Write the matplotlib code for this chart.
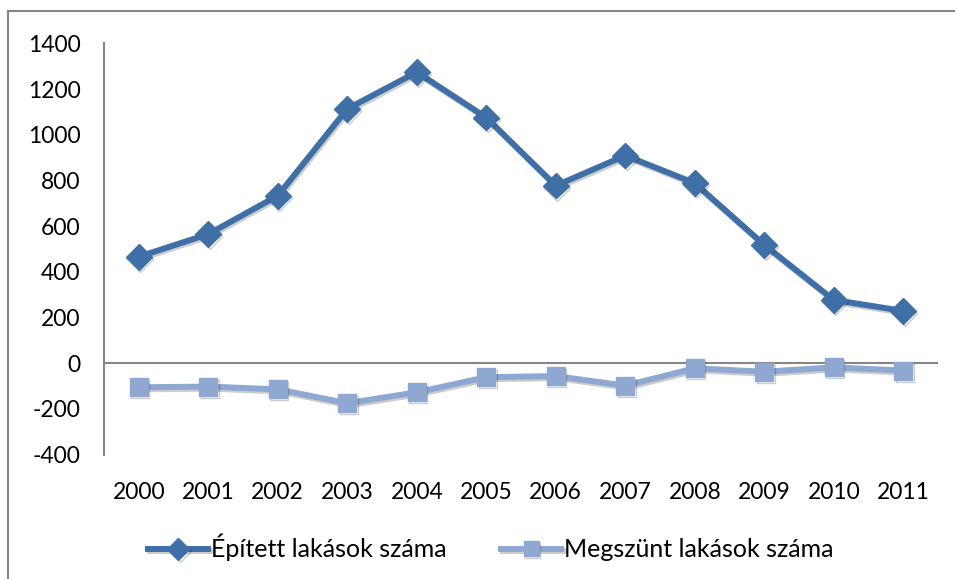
import numpy as np
import matplotlib.pyplot as plt
import matplotlib.patheffects as pe
from matplotlib.lines import Line2D

# yearly housing figures
years = ['2000', '2001', '2002', '2003', '2004', '2005',
         '2006', '2007', '2008', '2009', '2010', '2011']
epitett = [466, 565, 733, 1113, 1274, 1075, 777, 909, 788, 518, 277, 229]
megszunt = [-105, -102, -114, -175, -127, -61, -56, -98, -22, -37, -18, -32]

plt.rcParams['font.family'] = ['Lato', 'DejaVu Sans']
plt.rcParams['axes.unicode_minus'] = False

fig = plt.figure(figsize=(9.55, 5.79), dpi=100)
ax = fig.add_axes([0.1089, 0.2147, 0.9822 - 0.1089, 0.9252 - 0.2147])

x = np.arange(len(years))
shadow = [pe.SimpleLineShadow(offset=(1.0, -1.5), shadow_color='k', alpha=0.2), pe.Normal()]

ax.plot(x, epitett, color='#3F6FA7', lw=4.3, marker='D', markersize=13,
        label='Épített lakások száma', path_effects=shadow, zorder=3)
ax.plot(x, megszunt, color='#8EA8D1', lw=4.3, marker='s', markersize=13,
        label='Megszünt lakások száma', path_effects=shadow, zorder=3)

ax.set_xlim(-0.5, len(years) - 0.5)
ax.set_ylim(-400, 1400)
ax.set_yticks(range(-400, 1401, 200))
ax.set_xticks(x)
ax.set_xticklabels(years)

# axis at zero, category labels below the plot
for s in ['top', 'right', 'bottom']:
    ax.spines[s].set_visible(False)
ax.spines['left'].set_color('#868686')
ax.spines['left'].set_linewidth(1.5)
ax.axhline(0, color='#868686', lw=1.5, zorder=2)
ax.tick_params(axis='both', length=0, labelsize=16.5, colors='black')
ax.tick_params(axis='x', pad=20)
ax.tick_params(axis='y', pad=17)

fig.legend(loc='center', bbox_to_anchor=(0.514, 0.054), ncol=2, frameon=False,
           fontsize=18, handlelength=2.4, handletextpad=0.1, columnspacing=2.2,
           markerscale=0.85)

# chart frame
fig.add_artist(Line2D([8 / 955, 8 / 955], [0, 1 - 11 / 579], color='#868686', lw=1.5))
fig.add_artist(Line2D([8 / 955, 1], [1 - 11 / 579, 1 - 11 / 579], color='#868686', lw=1.5))

fig.savefig('out.png', dpi=100)
